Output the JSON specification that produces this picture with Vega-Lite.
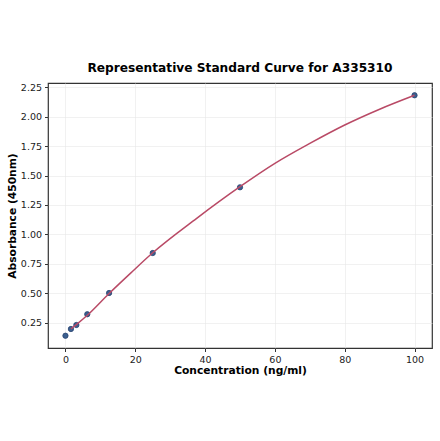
{
  "$schema": "https://vega.github.io/schema/vega-lite/v6.json",
  "autosize": {"type": "none"},
  "padding": {"left": 48, "top": 83, "right": 8, "bottom": 93},
  "width": 384,
  "height": 265,
  "title": {
    "text": "Representative Standard Curve for A335310",
    "font": "DejaVu Sans",
    "fontSize": 12.2,
    "fontWeight": "bold",
    "color": "#000000",
    "anchor": "middle",
    "offset": 8
  },
  "datasets": {
    "curve": [
      {"conc": 1.5625, "od": 0.199},
      {"conc": 3.125, "od": 0.236},
      {"conc": 6.25, "od": 0.315},
      {"conc": 12.5, "od": 0.5},
      {"conc": 18.75, "od": 0.675},
      {"conc": 25, "od": 0.845},
      {"conc": 37.5, "od": 1.135},
      {"conc": 50, "od": 1.405},
      {"conc": 60, "od": 1.603},
      {"conc": 70, "od": 1.772},
      {"conc": 80, "od": 1.928},
      {"conc": 90, "od": 2.062},
      {"conc": 100, "od": 2.18}
    ],
    "standards": [
      {"conc": 0, "od": 0.142},
      {"conc": 1.5625, "od": 0.199},
      {"conc": 3.125, "od": 0.233},
      {"conc": 6.25, "od": 0.324},
      {"conc": 12.5, "od": 0.504},
      {"conc": 25, "od": 0.843},
      {"conc": 50, "od": 1.4},
      {"conc": 100, "od": 2.18}
    ]
  },
  "encoding": {
    "x": {
      "field": "conc",
      "type": "quantitative",
      "title": "Concentration (ng/ml)",
      "scale": {"domain": [-5, 105], "nice": false, "zero": false},
      "axis": {"values": [0, 20, 40, 60, 80, 100]}
    },
    "y": {
      "field": "od",
      "type": "quantitative",
      "title": "Absorbance (450nm)",
      "scale": {"domain": [0.038, 2.284], "nice": false, "zero": false},
      "axis": {
        "values": [0.25, 0.5, 0.75, 1, 1.25, 1.5, 1.75, 2, 2.25],
        "format": ".2f"
      }
    }
  },
  "layer": [
    {
      "data": {"name": "standards"},
      "mark": {
        "type": "point",
        "filled": true,
        "size": 28,
        "color": "#3a5f8f",
        "stroke": "#2b4470",
        "strokeWidth": 0.8,
        "opacity": 1
      }
    },
    {
      "data": {"name": "curve"},
      "mark": {
        "type": "line",
        "interpolate": "monotone",
        "color": "#b94a66",
        "strokeWidth": 1.5
      }
    }
  ],
  "config": {
    "font": "DejaVu Sans",
    "view": {"stroke": "#333333", "strokeWidth": 1.2},
    "axis": {
      "domain": false,
      "grid": true,
      "gridColor": "#e8e8e8",
      "gridWidth": 0.6,
      "tickColor": "#333333",
      "tickSize": 3.5,
      "labelFont": "DejaVu Sans",
      "labelFontSize": 9.5,
      "labelColor": "#222222",
      "labelPadding": 3,
      "titleFont": "DejaVu Sans",
      "titleFontSize": 10.7,
      "titleFontWeight": "bold",
      "titleColor": "#000000"
    },
    "axisX": {"titlePadding": 1},
    "axisY": {"titlePadding": 3}
  }
}
